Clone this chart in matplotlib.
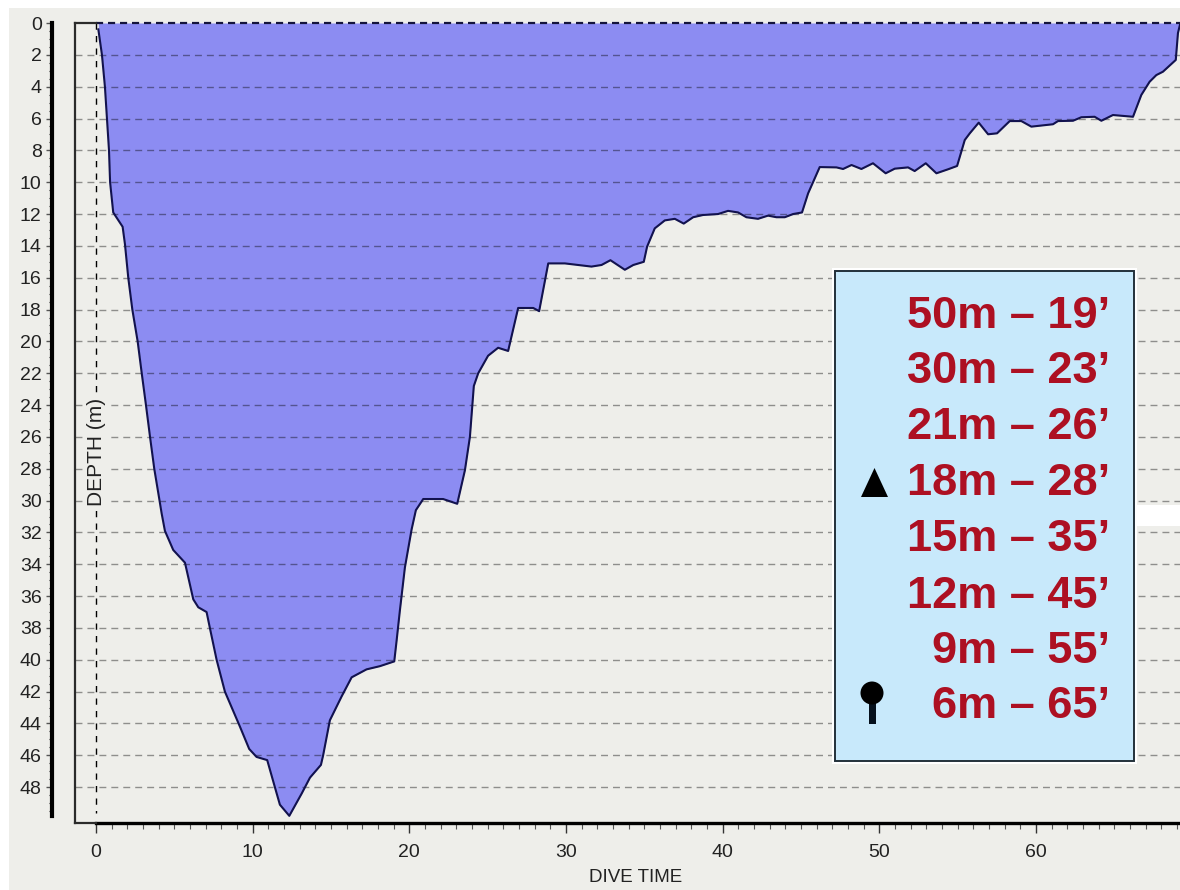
# Dive profile with deco stop table

import matplotlib
matplotlib.use('Agg')
import matplotlib.pyplot as plt
from matplotlib.patches import Rectangle, Polygon, Circle

plt.rcParams['font.family'] = ['Liberation Sans', 'DejaVu Sans']

time_min = [0.15, 0.38, 0.57, 0.7, 0.83, 0.9, 1.1, 1.7, 1.85, 2.06, 2.32, 2.66, 2.92, 3.19, 3.45, 3.72, 4.04,
            4.19, 4.4, 4.93, 5.68, 6.21, 6.53, 7.06, 7.27, 7.7, 8.23, 9.19, 9.78, 10.25, 10.93, 11.42, 11.74,
            12.34, 13.13, 13.66, 14.36, 14.5, 14.93, 15.68, 16.32, 17.27, 18.12, 19.04, 19.19, 19.4, 19.72,
            20.15, 20.42, 20.89, 22.16, 23.06, 23.55, 23.87, 24.12, 24.4, 25.03, 25.67, 26.31, 26.95, 27.91,
            28.29, 28.87, 29.93, 31.63, 32.27, 32.84, 33.76, 34.3, 34.97, 35.18, 35.67, 36.31, 36.95, 37.52,
            38.12, 38.75, 39.71, 40.35, 40.99, 41.52, 42.26, 42.9, 43.44, 43.97, 44.5, 45.07, 45.46, 46.2,
            47.27, 47.69, 48.23, 48.86, 49.6, 50.41, 50.99, 51.84, 52.26, 52.97, 53.65, 54.39, 54.97, 55.46,
            55.78, 56.35, 56.95, 57.52, 58.33, 59.07, 59.71, 61.09, 61.41, 62.37, 62.9, 63.75, 64.18, 64.92,
            66.2, 66.73, 67.26, 67.69, 68.11, 68.93, 69.07, 69.2]
depth_m = [0.4, 2, 4, 6, 8, 10, 11.9, 12.8, 13.9, 16, 18, 20, 22, 24, 26, 28, 29.9,
           30.8, 31.9, 33.1, 33.9, 36.2, 36.7, 37, 38, 40, 42, 44.2, 45.6, 46.1, 46.3, 48, 49.1,
           49.8, 48.4, 47.4, 46.6, 46, 43.8, 42.3, 41.1, 40.6, 40.4, 40.1, 38.8, 36.9, 34.2,
           31.8, 30.6, 29.9, 29.9, 30.2, 28.1, 26, 22.8, 22, 20.9, 20.4, 20.6, 17.9, 17.9,
           18.1, 15.1, 15.1, 15.3, 15.2, 14.9, 15.5, 15.2, 15, 14.05, 12.9, 12.4, 12.3, 12.6,
           12.2, 12.06, 12, 11.8, 11.9, 12.2, 12.3, 12.1, 12.2, 12.2, 12, 11.9, 10.7, 9.05,
           9.07, 9.17, 8.92, 9.17, 8.81, 9.44, 9.15, 9.07, 9.3, 8.81, 9.44, 9.19, 8.98, 7.35,
           6.93, 6.26, 6.99, 6.93, 6.16, 6.16, 6.51, 6.36, 6.16, 6.14, 5.92, 5.89, 6.14, 5.78,
           5.89, 4.52, 3.69, 3.27, 3.06, 2.32, 0.63, 0.1]

stop_labels = ["50m \u2013 19\u2019", "30m \u2013 23\u2019", "21m \u2013 26\u2019", "18m \u2013 28\u2019",
               "15m \u2013 35\u2019", "12m \u2013 45\u2019", "9m \u2013 55\u2019", "6m \u2013 65\u2019"]

BG = '#eeeeea'
W, H = 1180, 890

def fx(px):
    return px / W

def fy(py):
    return 1 - py / H

fig = plt.figure(figsize=(W / 100, H / 100), dpi=100, facecolor=BG)
# white strips along the top and left of the screenshot
fig.patches.append(Rectangle((0, fy(8)), 1, 8 / H, transform=fig.transFigure, color='white', lw=0))
fig.patches.append(Rectangle((0, 0), 9 / W, 1, transform=fig.transFigure, color='white', lw=0))

ax = fig.add_axes([fx(75), fy(823), 1 - fx(75), fy(23) - fy(823)])
ax.set_facecolor(BG)
x0, x1 = -1.34, 69.2
y1 = 50.25
ax.set_xlim(x0, x1)
ax.set_ylim(y1, 0)

ax.fill_between(time_min, 0, depth_m, color='#8c8cf2', lw=0, zorder=1)
ax.plot(time_min, depth_m, color='#12124e', lw=1.5, zorder=3)

# depth grid
for d in range(2, 50, 2):
    ax.plot([x0, x1], [d, d], color='black', alpha=0.4, lw=1, dashes=(5, 3.6), zorder=2)
ax.plot([0, x1], [0, 0], color='#14143c', lw=1.6, dashes=(3.2, 2.2), zorder=4, clip_on=False)
ax.plot([0, 0], [0, y1 - 0.6], color='black', lw=1, dashes=(4.5, 4.5), zorder=2)

# inner frame
ax.plot([x0, x0], [0, y1], color='#2b2b2b', lw=1.6, zorder=4, clip_on=False)
ax.plot([x0, 0], [0, 0], color='#2b2b2b', lw=1.6, zorder=4, clip_on=False)
ax.plot([x0, 0], [y1, y1], color='#2b2b2b', lw=1.6, zorder=4, clip_on=False)

for s in ['top', 'right']:
    ax.spines[s].set_visible(False)
ax.spines['bottom'].set_bounds(0, x1)
ax.spines['bottom'].set_linewidth(2.4)
ax.spines['left'].set_position(('outward', 16.5))
ax.spines['left'].set_bounds(0, 49.8)
ax.spines['left'].set_linewidth(3)

ax.set_xticks(range(0, 70, 10))
ax.set_xticks(range(0, 70), minor=True)
ax.set_yticks(range(0, 50, 2))
ax.set_yticks([v / 2 for v in range(0, 100)], minor=True)
ax.tick_params(axis='x', which='major', length=7, width=1, color='#333333', pad=8, labelsize=14, labelcolor='#222222')
ax.tick_params(axis='x', which='minor', length=4, width=0.8, color='#555555')
ax.tick_params(axis='y', which='major', length=4.5, width=1, color='#555555', pad=3, labelsize=14, labelcolor='#222222')
ax.tick_params(axis='y', which='minor', length=2, width=0.8, color='#333333')

fig.text(fx(636), fy(878), 'DIVE TIME', ha='center', va='center', fontsize=13.5, color='#222222')
fig.text(fx(96), fy(452), 'DEPTH (m)', ha='center', va='center', rotation=90, fontsize=15, color='#222222',
         bbox=dict(facecolor=BG, edgecolor='none', pad=2), zorder=5)

# white smear at the right edge
fig.patches.append(Rectangle((fx(1137), fy(526)), (W - 1137) / W, 21 / H, transform=fig.transFigure,
                             color='white', lw=0, zorder=5))

# stop table
fig.patches.append(Rectangle((fx(832), fy(764)), 305 / W, 496 / H, transform=fig.transFigure,
                             color='white', lw=0, zorder=6))
fig.patches.append(Rectangle((fx(835), fy(761)), 299 / W, 490 / H, transform=fig.transFigure,
                             facecolor='#c8e9fb', edgecolor='#22303a', lw=1.4, zorder=7))
row_y = [316, 371.5, 427.5, 484, 539.5, 596, 651.5, 707]
for label, y in zip(stop_labels, row_y):
    fig.text(fx(1110), fy(y), label, ha='right', va='center', fontsize=32.5, fontweight='bold',
             color='#ad1022', zorder=8)

fig.patches.append(Polygon([(fx(861), fy(497)), (fx(888), fy(497)), (fx(874.5), fy(468))],
                           transform=fig.transFigure, color='black', lw=0, zorder=8))
fig.patches.append(Rectangle((fx(868.5), fy(724)), 7 / W, 30 / H, transform=fig.transFigure,
                             color='#05101c', lw=0, zorder=8))
pin = Circle((872, H - 693), 11.5, transform=None, color='black', lw=0, zorder=9)
fig.patches.append(pin)

fig.savefig('out.png', dpi=100, facecolor=fig.get_facecolor())
